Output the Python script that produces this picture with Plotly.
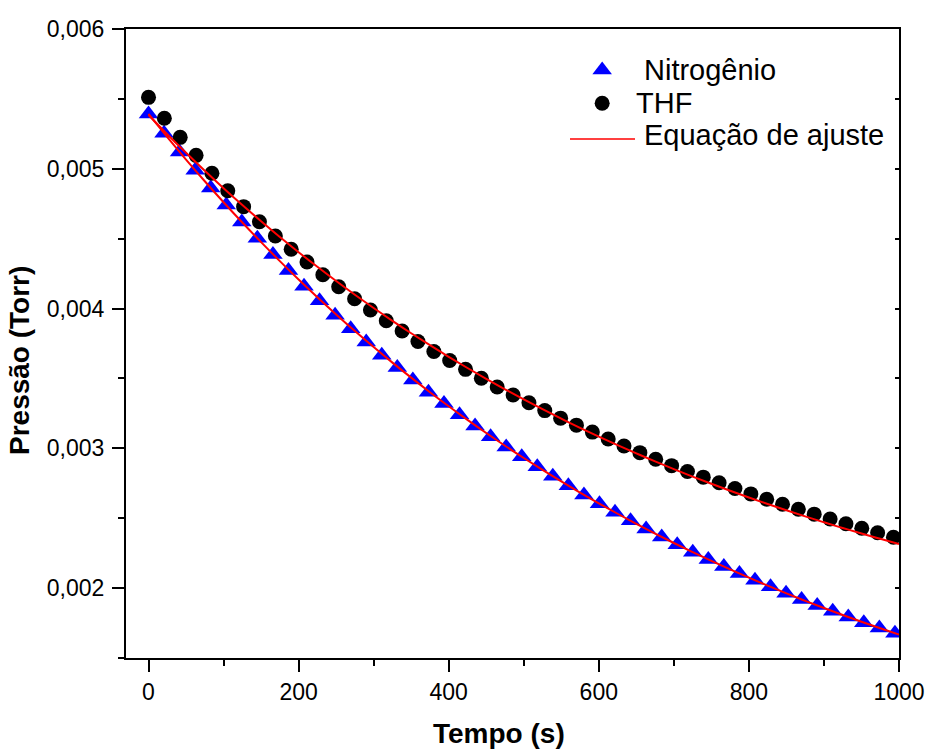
import plotly.graph_objects as go

# ---------------- data ----------------
t_n2 = [0, 20.7, 41.4, 62.2, 82.9, 103.6, 124.3, 145.0, 165.8, 186.5, 207.2, 227.9, 248.6,
        269.4, 290.1, 310.8, 331.5, 352.2, 373.0, 393.7, 414.4, 435.1, 455.8, 476.6, 497.3,
        518.0, 538.7, 559.4, 580.2, 600.9, 621.6, 642.3, 663.0, 683.8, 704.5, 725.2, 745.9,
        766.6, 787.4, 808.1, 828.8, 849.5, 870.2, 891.0, 911.7, 932.4, 953.1, 973.8, 994.6]
p_n2 = [0.005392, 0.005255, 0.005120, 0.004990, 0.004863, 0.004740, 0.004619, 0.004503,
        0.004386, 0.004272, 0.004160, 0.004055, 0.003952, 0.003856, 0.003760, 0.003666,
        0.003578, 0.003488, 0.003402, 0.003320, 0.003240, 0.003160, 0.003082, 0.003010,
        0.002940, 0.002869, 0.002800, 0.002733, 0.002667, 0.002604, 0.002542, 0.002482,
        0.002423, 0.002366, 0.002311, 0.002257, 0.002205, 0.002154, 0.002104, 0.002056,
        0.002009, 0.001963, 0.001919, 0.001876, 0.001834, 0.001793, 0.001753, 0.001715,
        0.001677]

t_thf = [0, 21.1, 42.2, 63.4, 84.5, 105.6, 126.7, 147.8, 169.0, 190.1, 211.2, 232.3, 253.4,
         274.6, 295.7, 316.8, 337.9, 359.0, 380.2, 401.3, 422.4, 443.5, 464.6, 485.8, 506.9,
         528.0, 549.1, 570.2, 591.4, 612.5, 633.6, 654.7, 675.8, 697.0, 718.1, 739.2, 760.3,
         781.4, 802.6, 823.7, 844.8, 865.9, 887.0, 908.2, 929.3, 950.4, 971.5, 992.6]
p_thf = [0.005511, 0.005361, 0.005225, 0.005096, 0.004968, 0.004843, 0.004729, 0.004621,
         0.004519, 0.004424, 0.004333, 0.004242, 0.004156, 0.004070, 0.003990, 0.003913,
         0.003839, 0.003764, 0.003693, 0.003628, 0.003565, 0.003501, 0.003439, 0.003382,
         0.003326, 0.003270, 0.003216, 0.003166, 0.003116, 0.003067, 0.003017, 0.002969,
         0.002922, 0.002876, 0.002834, 0.002794, 0.002754, 0.002713, 0.002674, 0.002636,
         0.002600, 0.002564, 0.002529, 0.002494, 0.002460, 0.002428, 0.002396, 0.002364]

t_fit = [0, 25, 50, 75, 100, 125, 150, 175, 200, 225, 250, 275, 300, 325, 350, 375, 400,
         425, 450, 475, 500, 525, 550, 575, 600, 625, 650, 675, 700, 725, 750, 775, 800,
         825, 850, 875, 900, 925, 950, 975, 1000]
fit_n2 = [0.0053924, 0.0052265, 0.0050661, 0.0049109, 0.0047608, 0.0046156, 0.0044752,
          0.0043394, 0.0042080, 0.0040810, 0.0039581, 0.0038393, 0.0037243, 0.0036131,
          0.0035056, 0.0034016, 0.0033010, 0.0032037, 0.0031096, 0.0030186, 0.0029306,
          0.0028455, 0.0027632, 0.0026835, 0.0026065, 0.0025320, 0.0024599, 0.0023902,
          0.0023228, 0.0022576, 0.0021946, 0.0021336, 0.0020746, 0.0020175, 0.0019623,
          0.0019090, 0.0018574, 0.0018074, 0.0017591, 0.0017124, 0.0016672]
fit_thf = [0.0053850, 0.0052473, 0.0051142, 0.0049855, 0.0048611, 0.0047408, 0.0046245,
           0.0045121, 0.0044035, 0.0042985, 0.0041970, 0.0040988, 0.0040039, 0.0039122,
           0.0038235, 0.0037378, 0.0036549, 0.0035748, 0.0034973, 0.0034224, 0.0033500,
           0.0032800, 0.0032124, 0.0031470, 0.0030838, 0.0030227, 0.0029636, 0.0029065,
           0.0028513, 0.0027979, 0.0027463, 0.0026964, 0.0026482, 0.0026016, 0.0025565,
           0.0025129, 0.0024708, 0.0024301, 0.0023908, 0.0023528, 0.0023160]

x_ticks = [0, 200, 400, 600, 800, 1000]
x_ticktext = ["0", "200", "400", "600", "800", "1000"]
x_minor = [100, 300, 500, 700, 900]
y_ticks = [0.002, 0.003, 0.004, 0.005, 0.006]
y_ticktext = ["0,002", "0,003", "0,004", "0,005", "0,006"]
y_minor = [0.0015, 0.0025, 0.0035, 0.0045, 0.0055]

legend_labels = ["Nitrogênio", "THF", "Equação de ajuste"]

FONT = "Liberation Sans, Arial, sans-serif"
BLUE = "#0000FF"
RED = "#FF0000"

fig = go.Figure()
fig.add_trace(go.Scatter(x=t_n2, y=p_n2, mode="markers", name=legend_labels[0],
                         marker=dict(symbol="triangle-up", size=17, color=BLUE,
                                     line=dict(width=0))))
fig.add_trace(go.Scatter(x=t_thf, y=p_thf, mode="markers", name=legend_labels[1],
                         marker=dict(symbol="circle", size=15, color="black",
                                     line=dict(width=0))))
fig.add_trace(go.Scatter(x=t_fit, y=fit_n2, mode="lines", name=legend_labels[2],
                         line=dict(color=RED, width=2, shape="spline")))
fig.add_trace(go.Scatter(x=t_fit, y=fit_thf, mode="lines", name=legend_labels[2],
                         line=dict(color=RED, width=2, shape="spline")))
# right axis (inside ticks)
fig.add_trace(go.Scatter(x=[], y=[], yaxis="y2", showlegend=False, hoverinfo="skip"))

# manual legend symbols on a hidden overlay axis (fractions of plot area)
fig.add_trace(go.Scatter(x=[0.6160], y=[0.9348], xaxis="x3", yaxis="y3", mode="markers",
                         marker=dict(symbol="triangle-up", size=17, color=BLUE),
                         hoverinfo="skip"))
fig.add_trace(go.Scatter(x=[0.6160], y=[0.8819], xaxis="x3", yaxis="y3", mode="markers",
                         marker=dict(symbol="circle", size=15, color="black"),
                         hoverinfo="skip"))
fig.add_trace(go.Scatter(x=[0.5744, 0.6585], y=[0.8251, 0.8251], xaxis="x3", yaxis="y3",
                         mode="lines", line=dict(color=RED, width=1.5), hoverinfo="skip"))

axis_common = dict(showgrid=False, zeroline=False, showline=True, linecolor="black",
                   linewidth=2, ticks="outside", ticklen=12, tickwidth=2, tickcolor="black",
                   tickfont=dict(family=FONT, size=23, color="black"), mirror=True,
                   automargin=False)

fig.update_layout(
    template="none",
    width=928, height=749,
    margin=dict(l=126, r=29, t=29, b=91, pad=0, autoexpand=False),
    paper_bgcolor="white", plot_bgcolor="white",
    showlegend=False,
    font=dict(family=FONT, color="black"),
    xaxis=dict(range=[-30, 1000], tickmode="array", tickvals=x_ticks, ticktext=x_ticktext,
               minor=dict(tickmode="array", tickvals=x_minor, ticks="outside", ticklen=6,
                          tickwidth=2, tickcolor="black", showgrid=False),
               **axis_common),
    yaxis=dict(range=[0.0015, 0.006], tickmode="array", tickvals=y_ticks, ticktext=y_ticktext,
               minor=dict(tickmode="array", tickvals=y_minor, ticks="outside", ticklen=6,
                          tickwidth=2, tickcolor="black", showgrid=False),
               ticklabelstandoff=3,
               **axis_common),
    yaxis2=dict(overlaying="y", side="right", range=[0.0015, 0.006], tickmode="array",
                tickvals=y_ticks, showticklabels=False, ticks="inside", ticklen=4,
                tickwidth=2, tickcolor="black", showgrid=False, zeroline=False,
                showline=False, automargin=False,
                minor=dict(tickmode="array", tickvals=y_minor, ticks="inside", ticklen=4,
                           tickwidth=2, tickcolor="black", showgrid=False)),
    xaxis3=dict(overlaying="x", range=[0, 1], visible=False, automargin=False),
    yaxis3=dict(overlaying="y", range=[0, 1], visible=False, automargin=False),
    annotations=[
        dict(text="<b>Tempo (s)</b>", xref="paper", yref="paper", x=0.4829, y=-0.1208,
             xanchor="center", yanchor="middle", showarrow=False,
             font=dict(family=FONT, size=28, color="black")),
        dict(text="<b>Pressão (Torr)</b>", xref="paper", yref="paper", x=-0.1371, y=0.4722,
             xanchor="center", yanchor="middle", textangle=-90, showarrow=False,
             font=dict(family=FONT, size=28, color="black")),
        dict(text=legend_labels[0], xref="paper", yref="paper", x=0.6675, y=0.9348,
             xanchor="left", yanchor="middle", showarrow=False,
             font=dict(family=FONT, size=29, color="black")),
        dict(text=legend_labels[1], xref="paper", yref="paper", x=0.6568, y=0.8819,
             xanchor="left", yanchor="middle", showarrow=False,
             font=dict(family=FONT, size=29, color="black")),
        dict(text=legend_labels[2], xref="paper", yref="paper", x=0.6675, y=0.8321,
             xanchor="left", yanchor="middle", showarrow=False,
             font=dict(family=FONT, size=29, color="black")),
    ],
)

fig.write_html("out.html")
